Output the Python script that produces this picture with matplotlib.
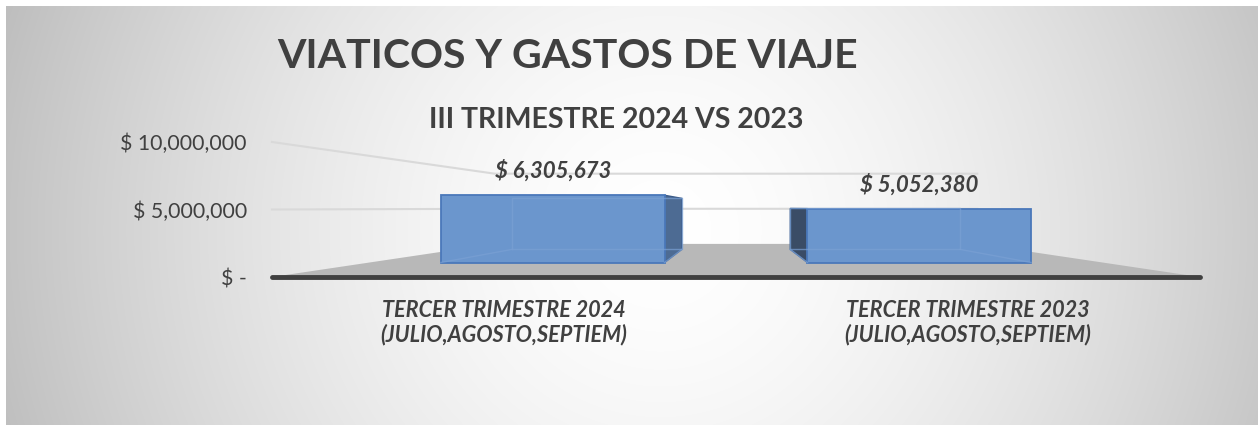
import matplotlib.pyplot as plt
import numpy as np

plt.rcParams['font.family'] = ['Lato', 'DejaVu Sans']

title = "VIATICOS Y GASTOS DE VIAJE"
subtitle = "III TRIMESTRE 2024 VS 2023"
categories = ["TERCER TRIMESTRE 2024\n(JULIO,AGOSTO,SEPTIEM)",
              "TERCER TRIMESTRE 2023\n(JULIO,AGOSTO,SEPTIEM)"]
values = [6305673, 5052380]
tick_values = [0, 5000000, 10000000]
tick_labels = ["$ -", "$ 5,000,000", "$ 10,000,000"]

TEXT = '#404040'
W, H = 1258, 425

fig = plt.figure(figsize=(W / 100, H / 100), dpi=100)
fig.patch.set_facecolor('white')

# radial grey background, white strip on the left and top
bg = fig.add_axes([0, 0, 1, 1])
bg.set_axis_off()
yy, xx = np.mgrid[0:H, 0:W]
d = np.hypot(xx - 660, yy - 230) / 700
g = 1 - 0.26 * np.clip(d, 0, 1.1) ** 1.6
img = np.dstack([g, g, g])
img[:6, :, :] = 1
img[:, :6, :] = 1
bg.imshow(img, extent=[0, W, H, 0], aspect='auto', interpolation='bilinear')
bg.set_xlim(0, W)
bg.set_ylim(H, 0)


def box(x0, y0, x1, y1):
    return [x0 / W, 1 - y1 / H, (x1 - x0) / W, (y1 - y0) / H]


ax = fig.add_axes(box(272, 142, 1200, 277))
ax.patch.set_alpha(0)
ax.set_xlim(-0.5, 1.5)
ax.set_ylim(0, 1e7)
for sp in ax.spines.values():
    sp.set_visible(False)
ax.set_xticks([])
ax.set_yticks(tick_values, tick_labels)
ax.tick_params(axis='y', length=0, pad=18, labelsize=15.3, labelcolor=TEXT)

# simple perspective: points shrink toward a vanishing point with depth s
vx, vy = 0.5, 5.11e6
s_front, s_back, s_wall = 0.79, 0.60, 0.52
bw = 0.61


def proj(x, y, s):
    x = np.asarray(x, float)
    y = np.asarray(y, float)
    s = np.asarray(s, float)
    return vx + s * (x - vx), vy + s * (y - vy)


# floor
fxs, fys = proj([-0.5, 1.5, 1.5, -0.5], [0, 0, 0, 0], [1, 1, s_wall, s_wall])
ax.fill(fxs, fys, color='#b8b8b8', lw=0, zorder=1, clip_on=False)

# gridlines on side and back wall
for v in tick_values[1:]:
    gx, gy = proj([-0.5, -0.5, 1.5], [v, v, v], [1, s_wall, s_wall])
    ax.plot(gx, gy, color='#d9d9d9', lw=1.5, zorder=0.5, clip_on=False)

ax.plot([-0.5, 1.5], [0, 0], color='#404040', lw=3.5,
        solid_capstyle='round', zorder=2, clip_on=False)

# bars
x = np.arange(len(values))
bx, bb = proj(x, 0, s_front)
_, bt = proj(x, values, s_front)
side_colors = ['#4d6b93', '#3a4c66']
for i, v in enumerate(values):
    sgn = 1 if bx[i] < vx else -1
    e = i + sgn * bw / 2
    sx, sy = proj([e, e, e, e], [0, v, v, 0], [s_front, s_front, s_back, s_back])
    ax.fill(sx, sy, color=side_colors[i], ec='#3a5a88', lw=1, zorder=3, clip_on=False)

ax.bar(bx, bt - bb, bottom=bb, width=bw * s_front, color='#6b96cd',
       edgecolor='#4a78ba', lw=1.3, zorder=4, clip_on=False)

# faint inner edges of the see-through boxes
for i, v in enumerate(values):
    l, r = i - bw / 2, i + bw / 2
    ex, ey = proj([l, r, r, l, l], [0, 0, v, v, 0], [s_back] * 5)
    ax.plot(ex, ey, color='#7aa0d4', lw=1, alpha=0.7, zorder=5, clip_on=False)
    for c in (l, r):
        cx, cy = proj([c, c], [0, 0], [s_front, s_back])
        ax.plot(cx, cy, color='#7aa0d4', lw=1, alpha=0.7, zorder=5, clip_on=False)

for i, v in enumerate(values):
    ax.annotate(f"$ {v:,}", (bx[i], bt[i]), xytext=(0, 17.5), textcoords='offset points',
                ha='center', va='center', fontsize=16, fontweight='bold',
                fontstyle='italic', color=TEXT)
    ax.annotate(categories[i], (i, 0), xytext=(0, -33), textcoords='offset points',
                ha='center', va='center', fontsize=15.6, fontweight='bold',
                fontstyle='italic', color=TEXT, linespacing=1.12)

fig.text(568 / W, 1 - 56 / H, title, ha='center', va='center', fontsize=29.5,
         fontweight='bold', color=TEXT)
fig.text(616 / W, 1 - 120 / H, subtitle, ha='center', va='center', fontsize=20.5,
         fontweight='bold', color=TEXT)

fig.savefig('out.png', dpi=100)
